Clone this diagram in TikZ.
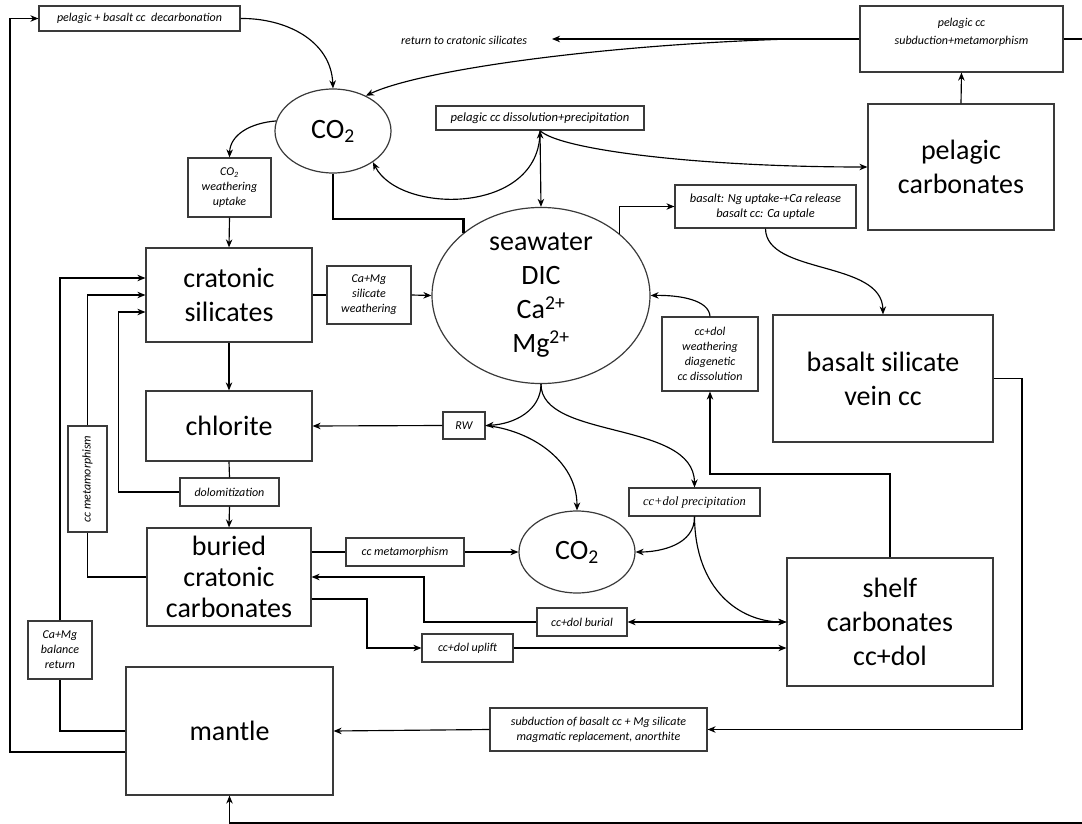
\documentclass[tikz,border=0pt]{standalone}
\usepackage{fontspec}
\setmainfont{Carlito}
\newfontfamily\timesf{Liberation Serif}
\usetikzlibrary{shapes.geometric,arrows.meta}
\definecolor{boxc}{HTML}{3A3A3A}
\begin{document}
\begin{tikzpicture}[x=1pt,y=-1pt,
  box/.style={draw=boxc,line width=1.2pt,inner sep=0pt,align=center,fill=white},
  ell/.style={ellipse,draw=boxc,line width=1.2pt,inner sep=0pt,align=center},
  big/.style={font=\fontsize{28}{34}\selectfont},
  lab/.style={font=\fontsize{12}{15}\selectfont\itshape},
  ln/.style={line width=1.15pt,draw=black},
  arr/.style={ln,-{Stealth[length=8pt,width=6.5pt,inset=2.5pt]}},
  darr/.style={ln,{Stealth[length=8pt,width=6.5pt,inset=2.5pt]}-{Stealth[length=8pt,width=6.5pt,inset=2.5pt]}},
]
\useasboundingbox (0,0) rectangle (1082,824);

% nodes
\node[box,lab,minimum width=201pt,minimum height=25pt] (decarb) at (139.5,18.5) {pelagic + basalt cc\ \ decarbonation};
\node[ell,big,minimum width=116pt,minimum height=84pt] (co2t) at (333,131) {CO\textsubscript{2}};
\node[lab] (ret) at (464,40) {return to cratonic silicates};
\node[box,minimum width=203pt,minimum height=66pt] (psub) at (961.5,39) {};
\node[lab,align=center,font=\fontsize{12}{18}\selectfont\itshape] (psubt) at (961.5,32.5) {pelagic cc\\subduction+metamorphism};
\node[box,font=\fontsize{12.6}{15}\selectfont\itshape,minimum width=208pt,minimum height=24pt] (pdis) at (540,118) {pelagic cc dissolution+precipitation};
\node[box,big,minimum width=186pt,minimum height=126pt] (pcarb) at (961,167) {pelagic\\carbonates};
\node[box,lab,minimum width=83pt,minimum height=59pt] (co2w) at (229.5,187.5) {CO\textsubscript{2}\\weathering\\uptake};
\node[box,big,minimum width=166pt,minimum height=94pt] (crat) at (229,295) {cratonic\\silicates};
\node[box,lab,minimum width=84pt,minimum height=58pt] (silw) at (369,295) {Ca+Mg\\silicate\\weathering};
\node[ell,big,minimum width=218pt,minimum height=173pt] (sea) at (541,295.5) {seawater\\DIC\\Ca\textsuperscript{2+}\\Mg\textsuperscript{2+}};
\node[box,font=\fontsize{12.4}{15}\selectfont\itshape,minimum width=181pt,minimum height=43pt] (bup) at (765.5,206.5) {basalt: Ng uptake-+Ca release\\basalt cc: Ca uptale};
\node[box,big,minimum width=220pt,minimum height=127pt] (bas) at (883,378.5) {basalt silicate\\vein cc};
\node[box,lab,minimum width=96pt,minimum height=74pt] (cdw) at (710,354) {cc+dol\\weathering\\diagenetic\\cc dissolution};
\node[box,big,minimum width=166pt,minimum height=70pt] (chl) at (229,426) {chlorite};
\node[box,lab,minimum width=42pt,minimum height=27pt] (rw) at (464,425.5) {RW};
\node[box,lab,minimum width=99pt,minimum height=28pt] (dolo) at (229.5,492) {dolomitization};
\node[box,lab,minimum width=39pt,minimum height=106pt] (ccmv) at (87.5,479) {\rotatebox{90}{cc metamorphism}};
\node[box,font=\fontsize{12.5}{15}\selectfont\timesf\itshape,minimum width=131pt,minimum height=28pt] (prec) at (694.5,502) {cc+dol precipitation};
\node[ell,big,minimum width=116pt,minimum height=82pt] (co2l) at (577,552) {CO\textsubscript{2}};
\node[box,font=\fontsize{28}{31}\selectfont,minimum width=164pt,minimum height=98pt] (bur) at (229,577) {buried\\cratonic\\carbonates};
\node[box,lab,minimum width=118pt,minimum height=28pt] (ccm) at (405,552) {cc metamorphism};
\node[box,lab,minimum width=90pt,minimum height=28pt] (burial) at (582,622) {cc+dol burial};
\node[box,lab,minimum width=91pt,minimum height=28pt] (upl) at (467.5,648) {cc+dol uplift};
\node[box,big,minimum width=206pt,minimum height=128pt] (shelf) at (890,622) {shelf\\carbonates\\cc+dol};
\node[box,lab,minimum width=64pt,minimum height=58pt] (camg) at (60,650) {Ca+Mg\\balance\\return};
\node[box,big,minimum width=207pt,minimum height=128pt] (mantle) at (229.5,731) {mantle};
\node[box,lab,minimum width=217pt,minimum height=43pt] (subd) at (598.5,729.5) {subduction of basalt cc + Mg silicate\\magmatic replacement, anorthite};

\coordinate (rettip) at (552,39);
\coordinate (br) at (790,39);
\coordinate (redge1) at (1082,39);
\coordinate (redge2) at (1082,823);

% connectors
\draw[arr] (mantle.west |- 0,752) -| (10,18.5) -- (decarb.west);
\draw[arr] (decarb.east) .. controls (285,18) and (331,40) .. (co2t.north);
\draw[arr] (psub.west) -- (rettip);
\draw[arr] (br) .. controls (600,45) and (420,70) .. (co2t.47);
\draw[ln] (psub.east) -- (redge1);
\draw[arr] (co2t.170) .. controls (250,123) and (230,135) .. (co2w.north);
\draw[arr] (co2w.south) -- (crat.north);
\draw[line width=2.6pt] (co2t.south) -- (co2t.south |- 0,219) -| (sea.141.5);
\draw[darr] (pdis.south) -- (sea.north);
\draw[arr] (pdis.south) .. controls (541,215) and (400,215) .. (co2t.-38);
\draw[arr] (pdis.south) .. controls (560,150) and (700,167) .. (pcarb.west);
\draw[arr] (pcarb.north) -- (psub.south);
\draw[arr] (sea.38) |- (bup.west);
\draw[arr] (bup.south) .. controls (766,275) and (882,260) .. (bas.north);
\draw[ln] (crat.east) -- (silw.west);
\draw[arr] (silw.east) -- (sea.west);
\draw[arr] (crat.south) -- (chl.north);
\draw[arr] (rw.west) -- (chl.east);
\draw[ln] (chl.south) -- (dolo.north);
\draw[arr] (dolo.south) -- (bur.north);
\draw[arr] (dolo.west) -| (118.5,312) -- (crat.west |- 0,312);
\draw[ln] (bur.west) -| (ccmv.south);
\draw[arr] (ccmv.north) |- (crat.west);
\draw[ln] (mantle.west) -| (camg.south);
\draw[arr] (camg.north) |- (crat.west |- 0,278);
\draw[arr] (sea.south) .. controls (541,410) and (515,424) .. (rw.east);
\draw[arr] (rw.east) .. controls (530,430) and (577,460) .. (co2l.north);
\draw[arr] (sea.south) .. controls (541,440) and (694,420) .. (prec.north);
\draw[arr] (prec.south) .. controls (695,545) and (660,552) .. (co2l.east);
\draw[arr] (prec.south) .. controls (695,590) and (740,622) .. (shelf.west);
\draw[arr] (cdw.north) .. controls (709,300) and (680,295) .. (sea.east);
\draw[arr] (shelf.north) |- (cdw.south |- 0,474) -- (cdw.south);
\draw[ln] (bur.east |- 0,552) -- (ccm.west);
\draw[arr] (ccm.east) -- (co2l.west);
\draw[darr] (burial.east) -- (shelf.west);
\draw[arr] (burial.west) -| (424,577) -- (bur.east);
\draw[arr] (bur.east |- 0,599) -| (367,648) -- (upl.west);
\draw[arr] (upl.east) -- (shelf.west |- 0,648);
\draw[arr] (bas.east) -| (1022,729.5) -- (subd.east);
\draw[arr] (subd.west) -- (mantle.east);
\draw[arr] (redge2) -| (mantle.south);
\end{tikzpicture}
\end{document}
